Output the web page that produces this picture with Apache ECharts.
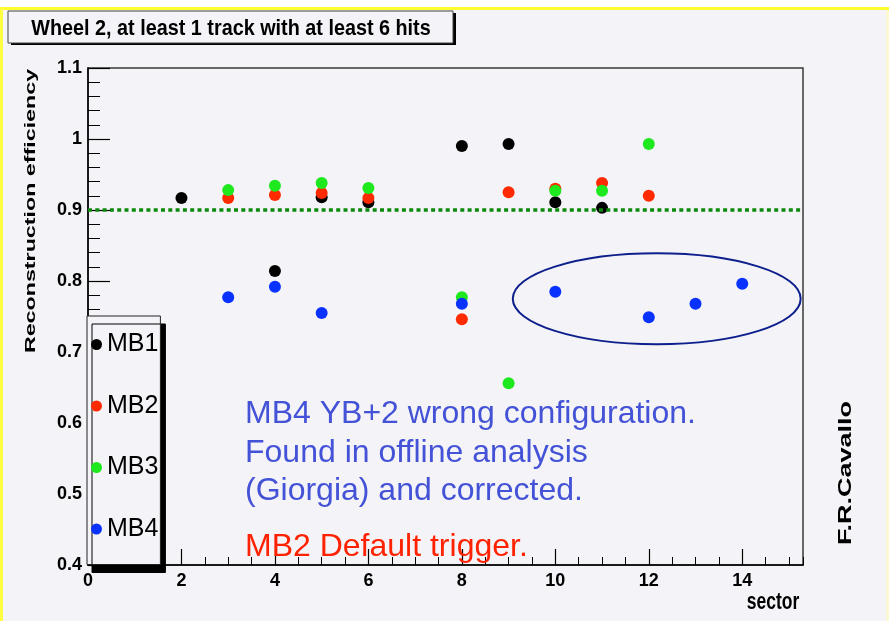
<!DOCTYPE html>
<html>
<head>
<meta charset="utf-8">
<title>Wheel 2 reconstruction efficiency</title>
<script src="https://cdn.jsdelivr.net/npm/echarts/dist/echarts.min.js"></script>
<style>
  html, body { margin: 0; padding: 0; background: #f4f3f7; }
  #main { width: 889px; height: 621px; }
</style>
</head>
<body>
<div id="main"></div>
<script>
// values (sector, reconstruction efficiency)
var seriesNames = ['MB1', 'MB2', 'MB3', 'MB4'];
var seriesColors = ['#000000', '#ff2a00', '#1ee81e', '#0a32ff'];

var sectorsMB1 = [2, 4, 5, 6, 8, 9, 10, 11];
var effMB1 = [0.917, 0.814, 0.918, 0.911, 0.990, 0.993, 0.911, 0.903];
var sectorsMB2 = [3, 4, 5, 6, 8, 9, 10, 11, 12];
var effMB2 = [0.917, 0.921, 0.924, 0.917, 0.746, 0.925, 0.930, 0.938, 0.920];
var sectorsMB3 = [3, 4, 5, 6, 8, 9, 10, 11, 12];
var effMB3 = [0.928, 0.934, 0.938, 0.931, 0.777, 0.656, 0.927, 0.927, 0.993];
var sectorsMB4 = [3, 4, 5, 8, 10, 12, 13, 14];
var effMB4 = [0.777, 0.792, 0.755, 0.768, 0.785, 0.749, 0.768, 0.796];

var thresholdEff = 0.902;
// circled MB4 group: centre and half sizes in data units
var circleCenter = [12.17, 0.775];
var circleHalf = [3.08, 0.064];

var titleText = 'Wheel 2, at least 1 track with at least 6 hits';
var yTitle = 'Reconstruction efficiency';
var xTitle = 'sector';
var authorText = 'F.R.Cavallo';
var noteBlue = 'MB4 YB+2 wrong configuration.\nFound in offline analysis\n(Giorgia) and corrected.';
var noteRed = 'MB2 Default trigger.';

var bg = '#f4f3f7';
var plainFont = "'Liberation Sans', Arial, sans-serif";

function makeSeries(idx, xs, ys) {
    return {
        name: seriesNames[idx],
        type: 'scatter',
        symbol: 'circle',
        symbolSize: 12,
        z: 3 + idx,
        itemStyle: { color: seriesColors[idx], opacity: 1 },
        emphasis: { disabled: true },
        data: xs.map(function (x, i) { return [x, ys[i]]; })
    };
}

var chart = echarts.init(document.getElementById('main'), null, { renderer: 'canvas' });

var tickLabel = { color: '#000', fontFamily: plainFont, fontWeight: 'bold', fontSize: 18 };

var option = {
    backgroundColor: bg,
    animation: false,
    grid: {
        left: 88, right: 86, top: 68, bottom: 56,
        show: true, borderColor: '#3a3a3a', borderWidth: 1.5, backgroundColor: 'transparent'
    },
    legend: {
        data: seriesNames,
        orient: 'vertical',
        left: 87, top: 316,
        padding: [14, 2, 21, 4],
        itemGap: 32.5,
        itemWidth: 11, itemHeight: 11,
        icon: 'circle',
        selectedMode: false,
        backgroundColor: bg,
        borderColor: '#222', borderWidth: 1,
        shadowColor: '#000', shadowBlur: 0, shadowOffsetX: 5, shadowOffsetY: 8,
        textStyle: { color: '#000', fontFamily: plainFont, fontSize: 25, lineHeight: 29 }
    },
    xAxis: [
        {
            type: 'value', min: 0, max: 15.3, interval: 2,
            axisLine: { show: true, onZero: false, lineStyle: { color: '#000', width: 1.5 } },
            axisTick: { inside: true, length: 16, lineStyle: { color: '#000', width: 1.2 } },
            axisLabel: Object.assign({ showMaxLabel: false, margin: 7 }, tickLabel),
            splitLine: { show: false }
        },
        {
            // minor ticks every 0.5
            type: 'value', min: 0, max: 15.3, interval: 0.5, position: 'bottom',
            axisLine: { show: false },
            axisTick: { inside: true, length: 8, lineStyle: { color: '#000', width: 1 } },
            axisLabel: { show: false },
            splitLine: { show: false }
        }
    ],
    yAxis: {
        type: 'value', min: 0.4, max: 1.1, interval: 0.1,
        axisLine: { show: true, onZero: false, lineStyle: { color: '#000', width: 1.5 } },
        axisTick: { show: true, inside: true, length: 22, lineStyle: { color: '#000', width: 1.2 } },
        minorTick: { show: true, splitNumber: 5, length: 12, lineStyle: { color: '#000', width: 1 } },
        axisLabel: Object.assign({ margin: 6 }, tickLabel),
        splitLine: { show: false }
    },
    series: [
        {
            name: 'threshold', type: 'line', data: [], z: 2,
            markLine: {
                silent: true, symbol: 'none', animation: false,
                label: { show: false },
                lineStyle: { color: '#0b8a0b', width: 3.5, type: [4, 3.3] },
                data: [{ yAxis: thresholdEff }]
            }
        },
        makeSeries(0, sectorsMB1, effMB1),
        makeSeries(1, sectorsMB2, effMB2),
        makeSeries(2, sectorsMB3, effMB3),
        makeSeries(3, sectorsMB4, effMB4)
    ],
    graphic: {
        elements: [
            { type: 'rect', z: 100, shape: { x: 0, y: 0, width: 889, height: 7 }, style: { fill: '#ffffff' } },
            { type: 'rect', z: 100, shape: { x: 0, y: 7, width: 889, height: 3 }, style: { fill: '#ffff2e' } },
            { type: 'rect', z: 100, shape: { x: 0, y: 7, width: 3, height: 614 }, style: { fill: '#ffff40' } },
            { type: 'rect', z: 100, shape: { x: 886, y: 10, width: 3, height: 611 }, style: { fill: '#fcf8d2' } },
            // title box with hard shadow
            { type: 'rect', z: 100, shape: { x: 11, y: 13, width: 445, height: 32 }, style: { fill: '#000' } },
            { type: 'rect', z: 101, shape: { x: 8, y: 11, width: 445, height: 32 }, style: { fill: bg, stroke: '#444', lineWidth: 1 } },
            {
                type: 'text', z: 102, x: 231, y: 29, scaleX: 0.99, scaleY: 1.12,
                style: { text: titleText, x: 0, y: 0, align: 'center', verticalAlign: 'middle',
                    font: 'bold 20px ' + plainFont, fill: '#000' }
            },
            {
                type: 'text', z: 102, x: 31, y: 211, rotation: Math.PI / 2, scaleX: 1.55,
                style: { text: yTitle, x: 0, y: 0, align: 'center', verticalAlign: 'middle',
                    font: 'bold 15px ' + plainFont, fill: '#000' }
            },
            {
                type: 'text', z: 102, x: 773, y: 603, scaleY: 1.33,
                style: { text: xTitle, x: 0, y: 0, align: 'center', verticalAlign: 'middle',
                    font: 'bold 17.5px ' + plainFont, fill: '#000' }
            },
            {
                type: 'text', z: 102, x: 846, y: 473, rotation: Math.PI / 2, scaleX: 1.5,
                style: { text: authorText, x: 0, y: 0, align: 'center', verticalAlign: 'middle',
                    font: 'bold 18px ' + plainFont, fill: '#000' }
            },
            {
                type: 'text', z: 110, x: 245, y: 395,
                style: { text: noteBlue, x: 0, y: 0, align: 'left', verticalAlign: 'top',
                    font: '32px ' + plainFont, lineHeight: 38.5, fill: '#4352d6' }
            },
            {
                type: 'text', z: 110, x: 245, y: 547,
                style: { text: noteRed, x: 0, y: 0, align: 'left', verticalAlign: 'middle',
                    font: '32px ' + plainFont, fill: '#ff2200' }
            }
        ]
    }
};

chart.setOption(option);

// ellipse around the MB4 points, placed through the axes
var c = chart.convertToPixel({ gridIndex: 0 }, circleCenter);
var e = chart.convertToPixel({ gridIndex: 0 }, [circleCenter[0] + circleHalf[0], circleCenter[1] + circleHalf[1]]);
chart.setOption({
    graphic: {
        elements: [{
            id: 'ring', type: 'ellipse', z: 90,
            shape: { cx: c[0], cy: c[1], rx: Math.abs(e[0] - c[0]), ry: Math.abs(e[1] - c[1]) },
            style: { fill: 'none', stroke: '#0d1f8c', lineWidth: 2 }
        }]
    }
});

window.addEventListener('resize', chart.resize);
</script>
</body>
</html>
